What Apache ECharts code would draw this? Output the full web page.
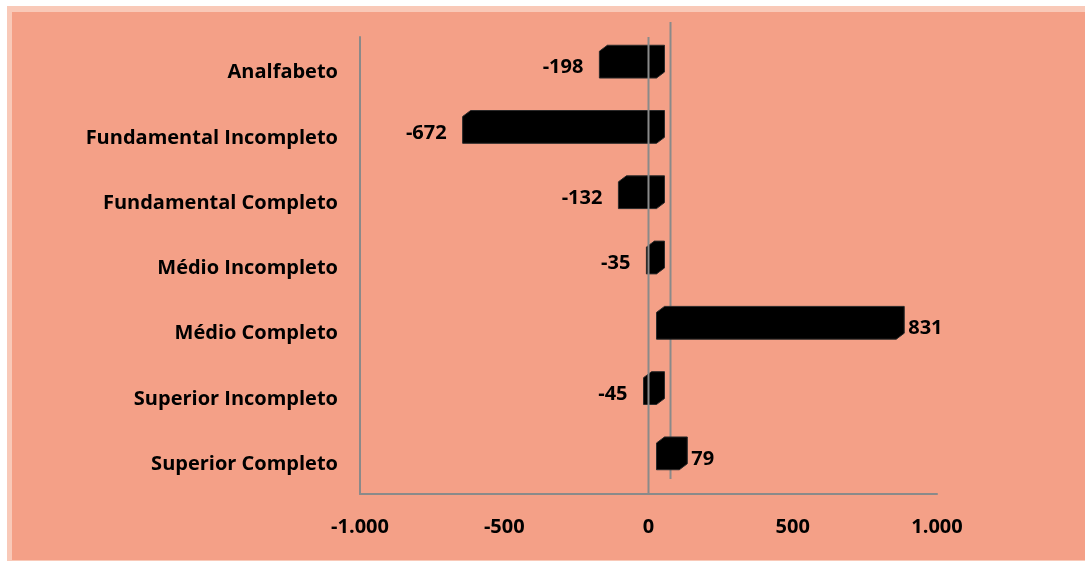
<!DOCTYPE html>
<html>
<head>
<meta charset="utf-8">
<script src="https://cdn.jsdelivr.net/npm/echarts@6/dist/echarts.min.js"></script>
<style>
  html, body { margin: 0; padding: 0; background: #ffffff; }
  #chart { width: 1085px; height: 561px; }
</style>
</head>
<body>
<div id="chart"></div>
<script>
// Saldo por grau de instrução
const categories = [
  'Analfabeto',
  'Fundamental Incompleto',
  'Fundamental Completo',
  'Médio Incompleto',
  'Médio Completo',
  'Superior Incompleto',
  'Superior Completo'
];
const values = [-198, -672, -132, -35, 831, -45, 79];
const axisMin = -1000;
const axisMax = 1000;
const axisStep = 500;

// oblique "3D" depth: back wall offset, bar front face offset, bar depth
const WALL_DX = 22, WALL_DY = -15;
const FACE_DX = 8, FACE_DY = -5;
const DEPTH_DX = 8, DEPTH_DY = -6;
const LINE_COLOR = '#8a8a8a';
const FAMILY = 'Open Sans';
const SIZE = 20;
const FONT = 'bold ' + SIZE + 'px "' + FAMILY + '"';

function fmt(v) {
  const s = Math.abs(v).toString().replace(/\B(?=(\d{3})+(?!\d))/g, '.');
  return (v < 0 ? '-' : '') + s;
}

function renderBar(params, api) {
  const idx = api.value(1);
  const v = api.value(0);
  const p0 = api.coord([0, idx]);
  const p1 = api.coord([v, idx]);
  const band = api.size([0, 1])[1];
  const h = band * 0.41;
  const cy = p0[1] + FACE_DY;
  const left = Math.min(p0[0], p1[0]) + FACE_DX;
  const right = Math.max(p0[0], p1[0]) + FACE_DX;
  const top = cy - h / 2, bottom = cy + h / 2;
  const pts = [
    [left, top],
    [left + DEPTH_DX, top + DEPTH_DY],
    [right + DEPTH_DX, top + DEPTH_DY],
    [right + DEPTH_DX, bottom + DEPTH_DY],
    [right, bottom],
    [left, bottom]
  ];
  const neg = v < 0;
  return {
    type: 'group',
    children: [
      {
        type: 'polygon',
        shape: { points: pts },
        style: { fill: '#000000', stroke: '#2a2a2a', lineWidth: 1 }
      },
      {
        type: 'text',
        style: {
          text: fmt(v),
          x: neg ? left - 16 : right + 12,
          y: cy + 3,
          align: neg ? 'right' : 'left',
          verticalAlign: 'middle',
          font: FONT,
          fill: '#000000'
        }
      }
    ]
  };
}

function zeroLine(dx, dy) {
  return function (params, api) {
    const cs = params.coordSys;
    const x = api.coord([0, 0])[0] + dx;
    return {
      type: 'line',
      shape: { x1: x, y1: cs.y + dy, x2: x, y2: cs.y + cs.height + dy },
      style: { stroke: LINE_COLOR, lineWidth: 2 }
    };
  };
}

const chart = echarts.init(document.getElementById('chart'));
chart.setOption({
  animation: false,
  backgroundColor: '#ffffff',
  graphic: [
    { type: 'rect', z: -10, silent: true, shape: { x: 7, y: 6, width: 1078, height: 555 }, style: { fill: '#f9c9b8' } },
    { type: 'rect', z: -9, silent: true, shape: { x: 12, y: 12, width: 1073, height: 548 }, style: { fill: '#f4a087' } }
  ],
  grid: { left: 360, right: 148, top: 37, bottom: 67 },
  xAxis: {
    type: 'value',
    min: axisMin,
    max: axisMax,
    interval: axisStep,
    splitLine: { show: false },
    axisTick: { show: false },
    axisLine: { show: true, onZero: false, lineStyle: { color: LINE_COLOR, width: 2 } },
    axisLabel: {
      formatter: fmt,
      color: '#000000',
      fontFamily: FAMILY,
      fontWeight: 'bold',
      fontSize: SIZE,
      margin: 23
    }
  },
  yAxis: {
    type: 'category',
    data: categories,
    inverse: true,
    axisTick: { show: false },
    axisLine: { show: true, onZero: false, lineStyle: { color: LINE_COLOR, width: 2 } },
    axisLabel: {
      color: '#000000',
      fontFamily: FAMILY,
      fontWeight: 'bold',
      fontSize: SIZE,
      margin: 22,
      verticalAlign: 'top',
      lineHeight: 6
    }
  },
  series: [
    {
      type: 'custom',
      name: 'back zero',
      z: 1,
      silent: true,
      renderItem: zeroLine(WALL_DX, WALL_DY),
      data: [[0, 0]],
      encode: { x: 0, y: 1 }
    },
    {
      type: 'custom',
      name: 'Saldo',
      z: 2,
      renderItem: renderBar,
      data: values.map((v, i) => [v, i]),
      encode: { x: 0, y: 1 }
    },
    {
      type: 'custom',
      name: 'front zero',
      z: 3,
      silent: true,
      renderItem: zeroLine(0, 0),
      data: [[0, 0]],
      encode: { x: 0, y: 1 }
    }
  ]
});
</script>
</body>
</html>
